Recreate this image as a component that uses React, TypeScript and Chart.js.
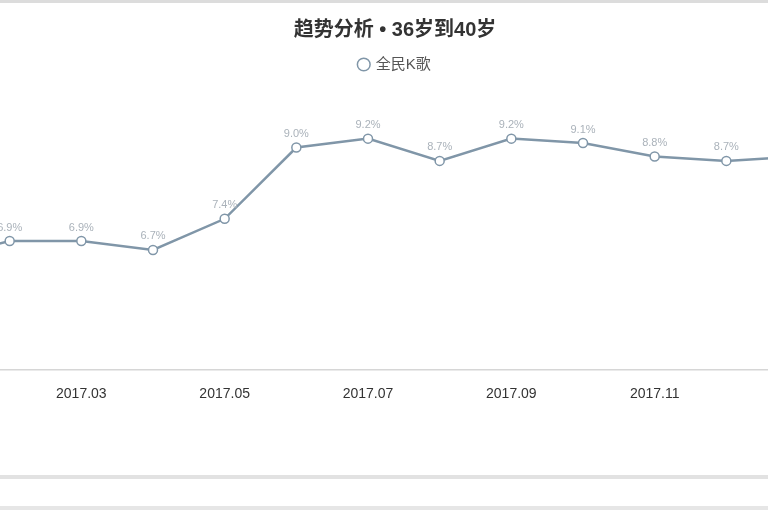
import { useEffect, useRef } from "react";
import { Chart, registerables } from "chart.js";

Chart.register(...registerables);

const months = [
  "2017.01", "2017.02", "2017.03", "2017.04", "2017.05", "2017.06", "2017.07",
  "2017.08", "2017.09", "2017.10", "2017.11", "2017.12", "2018.01",
];
const shareK = [6.5, 6.9, 6.9, 6.7, 7.4, 9.0, 9.2, 8.7, 9.2, 9.1, 8.8, 8.7, 8.8];
const seriesName = "全民K歌";
const titleText = "趋势分析 • 36岁到40岁";

const LINE = "#8096a8";
const FONT = "'Liberation Sans', 'Noto Sans CJK SC', sans-serif";

// small stand-in for a datalabels plugin: value text above every point
const pointLabels = {
  id: "pointLabels",
  afterDatasetsDraw(chart: Chart) {
    const { ctx } = chart;
    const meta = chart.getDatasetMeta(0);
    const data = chart.data.datasets[0].data as number[];
    ctx.save();
    ctx.font = `11px ${FONT}`;
    ctx.fillStyle = "#aab2ba";
    ctx.textAlign = "center";
    ctx.textBaseline = "bottom";
    meta.data.forEach((pt, i) => {
      ctx.fillText(`${data[i].toFixed(1)}%`, pt.x, pt.y - 8);
    });
    ctx.restore();
  },
};

// extra room between legend and plot
const legendGap = {
  id: "legendGap",
  beforeInit(chart: any) {
    const fit = chart.legend.fit;
    chart.legend.fit = function () {
      fit.call(this);
      this.height += 21;
    };
  },
};

const TrendChart = () => {
  const rootRef = useRef<null | HTMLCanvasElement>(null);

  useEffect(() => {
    if (!rootRef.current) return;

    const c = new Chart(rootRef.current, {
      type: "line",
      data: {
        labels: months,
        datasets: [
          {
            label: seriesName,
            data: shareK,
            borderColor: LINE,
            borderWidth: 2.5,
            backgroundColor: "#ffffff",
            pointBackgroundColor: "#ffffff",
            pointBorderColor: LINE,
            pointBorderWidth: 1.5,
            pointRadius: 4.5,
            tension: 0,
          },
        ],
      },
      options: {
        animation: false,
        responsive: true,
        maintainAspectRatio: false,
        layout: { padding: { left: 58, right: 58, top: 0, bottom: 91 } },
        plugins: {
          title: {
            display: true,
            text: titleText,
            color: "#333333",
            font: { size: 20, weight: "bold", family: FONT },
            padding: { top: 18, bottom: 5 },
          },
          legend: {
            display: true,
            labels: {
              usePointStyle: true,
              pointStyle: "circle",
              boxWidth: 9,
              boxHeight: 9,
              color: "#555555",
              font: { size: 15, family: FONT },
            },
          },
          tooltip: { enabled: false },
        },
        scales: {
          x: {
            grid: { display: false, drawTicks: false },
            border: { display: true, color: "#d6d6d6", width: 1.5 },
            ticks: {
              autoSkip: false,
              maxRotation: 0,
              padding: 16,
              color: "#333333",
              font: { size: 14, family: FONT },
              callback: (_v, i) => (i % 2 === 0 ? months[i] : ""),
            },
          },
          y: {
            position: "right",
            min: 4,
            max: 10,
            grid: { display: false },
            border: { display: false },
            ticks: { display: false },
            afterFit: (s: any) => {
              s.width = 54;
            },
          },
        },
      },
      plugins: [pointLabels, legendGap],
    });

    return () => c.destroy();
  }, []);

  return <canvas ref={rootRef}></canvas>;
};

export default function App() {
  return (
    <div
      style={{
        position: "fixed",
        left: 0,
        top: 0,
        width: 768,
        height: 510,
        overflow: "hidden",
        background: "#ffffff",
      }}
    >
      <div style={{ position: "absolute", left: 0, top: 0, width: 768, height: 3, background: "#dcdcdc" }} />
      <div style={{ position: "absolute", left: -120, top: 0, width: 1030, height: 510 }}>
        <TrendChart />
      </div>
      <div style={{ position: "absolute", left: 0, top: 475, width: 768, height: 4, background: "#e2e2e2" }} />
      <div style={{ position: "absolute", left: 0, top: 506, width: 768, height: 4, background: "#e6e6e6" }} />
    </div>
  );
}
